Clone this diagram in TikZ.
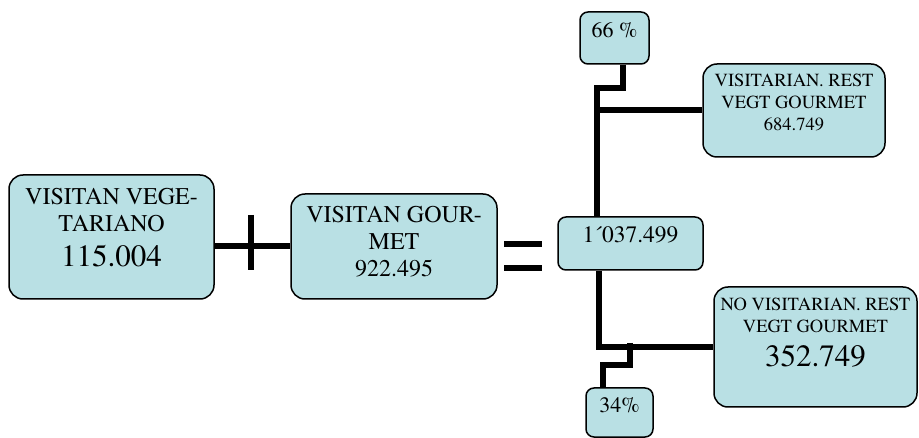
\documentclass[tikz,border=0pt]{standalone}
\usepackage{fontspec}
\setmainfont{TeX Gyre Termes}
\definecolor{boxfill}{RGB}{185,224,228}
\tikzset{
  box/.style={draw=black, line width=1.5pt, fill=boxfill, rounded corners=14pt, inner sep=0pt},
  sbox/.style={box, rounded corners=8pt},
  conn/.style={draw=black, line width=6pt, line join=miter},
  tbig/.style={font=\fontsize{24}{28}\selectfont, inner sep=0pt, anchor=base},
  tnum/.style={font=\fontsize{31}{35}\selectfont, inner sep=0pt, anchor=base},
  tsmall/.style={font=\fontsize{18.5}{22}\selectfont, inner sep=0pt, anchor=base},
  tmid/.style={font=\fontsize{22}{26}\selectfont, inner sep=0pt, anchor=base},
}
\begin{document}
\begin{tikzpicture}[x=1pt,y=-1pt]
\useasboundingbox (0,0) rectangle (919,438);
% boxes
\node[box, minimum width=205pt, minimum height=124pt] (a) at (111.5,237) {};
\node[box, minimum width=206pt, minimum height=105pt] (b) at (394,246.5) {};
\node[sbox, minimum width=145pt, minimum height=53pt] (c) at (630.5,243.5) {};
\node[sbox, minimum width=69pt, minimum height=52pt] (p66) at (614.5,38) {};
\node[box, minimum width=182pt, minimum height=93pt] (d) at (794,110.5) {};
\node[box, minimum width=203pt, minimum height=120pt] (e) at (815.5,347) {};
\node[sbox, minimum width=67pt, minimum height=49pt] (p34) at (619.5,412.5) {};
% texts
\node[tbig] (a1) at (111.5,205) {VISITAN VEGE-};
\node[tbig] (a2) at (111.5,232) {TARIANO};
\node[tnum] (a3) at (111.5,267) {115.004};
\node[tbig] (b1) at (394,223) {VISITAN GOUR-};
\node[tbig] (b2) at (394,250) {MET};
\node[tbig] (b3) at (394,277) {922.495};
\node[tmid, font=\fontsize{23.5}{27}\selectfont] (c1) at (630.5,243) {1´037.499};
\node[tmid] (q1) at (614.5,38) {66 \%};
\node[tsmall] (d1) at (794,87) {VISITARIAN. REST};
\node[tsmall] (d2) at (794,109) {VEGT GOURMET};
\node[tsmall] (d3) at (794,131) {684.749};
\node[tsmall] (e1) at (815.5,311) {NO VISITARIAN. REST};
\node[tsmall] (e2) at (815.5,333) {VEGT GOURMET};
\node[tnum] (e3) at (815.5,367) {352.749};
\node[tmid] (q2) at (619.5,413) {34\%};
% connector A - B with cross bar
\coordinate (x1) at (251,215);
\coordinate (x2) at (251,270);
\draw[conn] (a.east |- b.west) -- (b.west);
\draw[conn, line width=6.5pt] (x1) -- (x2);
% equal sign
\coordinate (q1a) at (504,244);
\coordinate (q1b) at (542,244);
\coordinate (q2a) at (504,268);
\coordinate (q2b) at (542,268);
\draw[conn] (q1a) -- (q1b);
\draw[conn] (q2a) -- (q2b);
% upper branch
\coordinate (j1) at (597,88);
\coordinate (j2) at (623,88);
\draw[conn] (p66.south -| j2) -- (j2) -- (j1) -- (c.north -| j1);
\draw[conn] (j1 |- d.west) -- (d.west);
% lower branch
\coordinate (k1) at (599,347);
\draw[conn] (c.south -| k1) -- (k1 |- e.west) -- (e.west);
\coordinate (m1) at (630,343);
\coordinate (m2) at (630,365);
\coordinate (m3) at (603,365);
\draw[conn] (m1) -- (m2) -- (m3) -- (p34.north -| m3);
\end{tikzpicture}
\end{document}
